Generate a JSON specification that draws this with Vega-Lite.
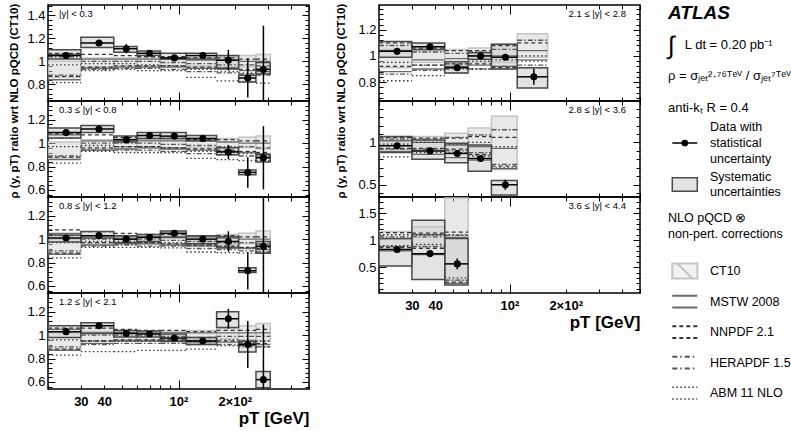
{
"$schema":"https://vega.github.io/schema/vega-lite/v6.json",
"padding":{"left":8,"top":3,"right":0,"bottom":0},
"config":{"font":"Liberation Sans","view":{"stroke":"#000","strokeWidth":1.5},
"axis":{"domain":false,"grid":false,"tickColor":"#000","labelColor":"#000","titleColor":"#000","zindex":1},
"axisX":{"labelFontSize":13,"labelFontWeight":"bold","labelPadding":10,"labelOverlap":false},
"axisY":{"tickSize":-7,"labelFontSize":13,"labelPadding":10}},
"datasets":{
"bins":[
{"p":1,"lo":20,"hi":30,"pt":25,"v":1.05,"st":0.01,"sl":1.02,"sh":1.1,"cl":0.86,"ch":1.0,"ml":0.84,"mh":1.06,"nl":0.87,"nh":1.07,"hl":0.88,"hh":1.04,"al":0.815,"ah":0.97},
{"p":1,"lo":30,"hi":45,"pt":37.5,"v":1.16,"st":0.02,"sl":1.12,"sh":1.21,"cl":0.95,"ch":1.03,"ml":0.94,"mh":1.02,"nl":0.95,"nh":1.06,"hl":0.93,"hh":1.0,"al":0.92,"ah":0.98},
{"p":1,"lo":45,"hi":60,"pt":52.5,"v":1.11,"st":0.04,"sl":1.08,"sh":1.13,"cl":0.96,"ch":1.03,"ml":0.95,"mh":1.02,"nl":0.96,"nh":1.05,"hl":0.94,"hh":1.0,"al":0.93,"ah":0.98},
{"p":1,"lo":60,"hi":80,"pt":70,"v":1.07,"st":0.01,"sl":1.05,"sh":1.09,"cl":0.96,"ch":1.03,"ml":0.95,"mh":1.02,"nl":0.96,"nh":1.04,"hl":0.94,"hh":1.0,"al":0.92,"ah":0.97},
{"p":1,"lo":80,"hi":110,"pt":95,"v":1.03,"st":0.01,"sl":1.02,"sh":1.07,"cl":0.96,"ch":1.03,"ml":0.95,"mh":1.02,"nl":0.96,"nh":1.04,"hl":0.93,"hh":0.99,"al":0.92,"ah":0.96},
{"p":1,"lo":110,"hi":160,"pt":135,"v":1.05,"st":0.012,"sl":1.02,"sh":1.07,"cl":0.96,"ch":1.03,"ml":0.94,"mh":1.01,"nl":0.95,"nh":1.03,"hl":0.91,"hh":0.98,"al":0.86,"ah":0.93},
{"p":1,"lo":160,"hi":210,"pt":185,"v":1.01,"st":0.09,"sl":0.94,"sh":1.05,"cl":0.95,"ch":1.04,"ml":0.93,"mh":1.01,"nl":0.94,"nh":1.03,"hl":0.9,"hh":0.97,"al":0.83,"ah":0.91},
{"p":1,"lo":210,"hi":260,"pt":235,"v":0.855,"st":0.17,"sl":0.82,"sh":0.88,"cl":0.95,"ch":1.05,"ml":0.92,"mh":1.0,"nl":0.93,"nh":1.02,"hl":0.89,"hh":0.97,"al":0.82,"ah":0.9},
{"p":1,"lo":260,"hi":310,"pt":285,"v":0.93,"st":0.38,"sl":0.89,"sh":0.99,"cl":0.94,"ch":1.06,"ml":0.91,"mh":1.0,"nl":0.92,"nh":1.02,"hl":0.88,"hh":0.96,"al":0.81,"ah":0.89},
{"p":2,"lo":20,"hi":30,"pt":25,"v":1.09,"st":0.012,"sl":1.045,"sh":1.13,"cl":0.87,"ch":1.01,"ml":0.86,"mh":1.07,"nl":0.88,"nh":1.08,"hl":0.89,"hh":1.04,"al":0.83,"ah":0.97},
{"p":2,"lo":30,"hi":45,"pt":37.5,"v":1.12,"st":0.015,"sl":1.09,"sh":1.15,"cl":0.95,"ch":1.03,"ml":0.94,"mh":1.02,"nl":0.96,"nh":1.07,"hl":0.94,"hh":1.0,"al":0.93,"ah":0.98},
{"p":2,"lo":45,"hi":60,"pt":52.5,"v":1.03,"st":0.01,"sl":1.01,"sh":1.06,"cl":0.96,"ch":1.03,"ml":0.95,"mh":1.02,"nl":0.97,"nh":1.05,"hl":0.94,"hh":1.0,"al":0.92,"ah":0.97},
{"p":2,"lo":60,"hi":80,"pt":70,"v":1.065,"st":0.01,"sl":1.04,"sh":1.09,"cl":0.96,"ch":1.03,"ml":0.96,"mh":1.02,"nl":0.97,"nh":1.04,"hl":0.94,"hh":1.0,"al":0.92,"ah":0.97},
{"p":2,"lo":80,"hi":110,"pt":95,"v":1.06,"st":0.01,"sl":1.04,"sh":1.09,"cl":0.96,"ch":1.03,"ml":0.95,"mh":1.02,"nl":0.96,"nh":1.04,"hl":0.93,"hh":0.99,"al":0.92,"ah":0.96},
{"p":2,"lo":110,"hi":160,"pt":135,"v":1.04,"st":0.012,"sl":1.02,"sh":1.065,"cl":0.96,"ch":1.03,"ml":0.94,"mh":1.02,"nl":0.95,"nh":1.03,"hl":0.91,"hh":0.98,"al":0.87,"ah":0.93},
{"p":2,"lo":160,"hi":210,"pt":185,"v":0.925,"st":0.06,"sl":0.9,"sh":0.96,"cl":0.96,"ch":1.04,"ml":0.93,"mh":1.01,"nl":0.94,"nh":1.03,"hl":0.9,"hh":0.97,"al":0.86,"ah":0.92},
{"p":2,"lo":210,"hi":260,"pt":235,"v":0.75,"st":0.13,"sl":0.73,"sh":0.77,"cl":0.96,"ch":1.05,"ml":0.92,"mh":1.0,"nl":0.93,"nh":1.02,"hl":0.89,"hh":0.97,"al":0.85,"ah":0.91},
{"p":2,"lo":260,"hi":310,"pt":285,"v":0.875,"st":0.27,"sl":0.84,"sh":0.9,"cl":0.95,"ch":1.06,"ml":0.91,"mh":1.0,"nl":0.92,"nh":1.02,"hl":0.88,"hh":0.96,"al":0.85,"ah":0.9},
{"p":3,"lo":20,"hi":30,"pt":25,"v":1.01,"st":0.01,"sl":0.975,"sh":1.035,"cl":0.88,"ch":1.0,"ml":0.87,"mh":1.05,"nl":0.88,"nh":1.08,"hl":0.9,"hh":1.03,"al":0.84,"ah":0.97},
{"p":3,"lo":30,"hi":45,"pt":37.5,"v":1.03,"st":0.012,"sl":1.01,"sh":1.065,"cl":0.96,"ch":1.03,"ml":0.95,"mh":1.03,"nl":0.97,"nh":1.065,"hl":0.94,"hh":1.0,"al":0.93,"ah":0.98},
{"p":3,"lo":45,"hi":60,"pt":52.5,"v":1.0,"st":0.01,"sl":0.97,"sh":1.03,"cl":0.96,"ch":1.03,"ml":0.96,"mh":1.02,"nl":0.97,"nh":1.05,"hl":0.95,"hh":1.0,"al":0.93,"ah":0.98},
{"p":3,"lo":60,"hi":80,"pt":70,"v":1.015,"st":0.012,"sl":0.98,"sh":1.04,"cl":0.96,"ch":1.03,"ml":0.96,"mh":1.02,"nl":0.97,"nh":1.04,"hl":0.94,"hh":1.0,"al":0.93,"ah":0.97},
{"p":3,"lo":80,"hi":110,"pt":95,"v":1.05,"st":0.012,"sl":1.015,"sh":1.07,"cl":0.96,"ch":1.03,"ml":0.95,"mh":1.02,"nl":0.96,"nh":1.04,"hl":0.94,"hh":0.99,"al":0.925,"ah":0.97},
{"p":3,"lo":110,"hi":160,"pt":135,"v":1.0,"st":0.015,"sl":0.96,"sh":1.03,"cl":0.96,"ch":1.03,"ml":0.94,"mh":1.02,"nl":0.95,"nh":1.03,"hl":0.92,"hh":0.98,"al":0.89,"ah":0.95},
{"p":3,"lo":160,"hi":210,"pt":185,"v":0.98,"st":0.087,"sl":0.925,"sh":1.02,"cl":0.96,"ch":1.04,"ml":0.93,"mh":1.01,"nl":0.94,"nh":1.03,"hl":0.91,"hh":0.97,"al":0.885,"ah":0.94},
{"p":3,"lo":210,"hi":260,"pt":235,"v":0.73,"st":0.16,"sl":0.715,"sh":0.755,"cl":0.96,"ch":1.05,"ml":0.92,"mh":1.0,"nl":0.93,"nh":1.02,"hl":0.9,"hh":0.97,"al":0.88,"ah":0.93},
{"p":3,"lo":260,"hi":310,"pt":285,"v":0.94,"st":0.45,"sl":0.88,"sh":0.98,"cl":0.95,"ch":1.07,"ml":0.91,"mh":1.0,"nl":0.92,"nh":1.02,"hl":0.89,"hh":0.96,"al":0.88,"ah":0.93},
{"p":4,"lo":20,"hi":30,"pt":25,"v":1.03,"st":0.012,"sl":0.98,"sh":1.08,"cl":0.88,"ch":1.02,"ml":0.87,"mh":1.05,"nl":0.88,"nh":1.06,"hl":0.9,"hh":1.03,"al":0.83,"ah":0.96},
{"p":4,"lo":30,"hi":45,"pt":37.5,"v":1.08,"st":0.012,"sl":1.015,"sh":1.105,"cl":0.95,"ch":1.03,"ml":0.93,"mh":1.02,"nl":0.95,"nh":1.06,"hl":0.92,"hh":1.0,"al":0.86,"ah":0.95},
{"p":4,"lo":45,"hi":60,"pt":52.5,"v":1.015,"st":0.01,"sl":0.985,"sh":1.04,"cl":0.96,"ch":1.03,"ml":0.95,"mh":1.02,"nl":0.96,"nh":1.05,"hl":0.93,"hh":1.0,"al":0.86,"ah":0.95},
{"p":4,"lo":60,"hi":80,"pt":70,"v":1.01,"st":0.01,"sl":0.985,"sh":1.035,"cl":0.96,"ch":1.03,"ml":0.95,"mh":1.02,"nl":0.96,"nh":1.04,"hl":0.93,"hh":1.0,"al":0.87,"ah":0.95},
{"p":4,"lo":80,"hi":110,"pt":95,"v":0.975,"st":0.012,"sl":0.945,"sh":1.01,"cl":0.96,"ch":1.03,"ml":0.95,"mh":1.02,"nl":0.96,"nh":1.04,"hl":0.93,"hh":0.99,"al":0.87,"ah":0.95},
{"p":4,"lo":110,"hi":160,"pt":135,"v":0.95,"st":0.015,"sl":0.92,"sh":0.98,"cl":0.96,"ch":1.04,"ml":0.94,"mh":1.02,"nl":0.95,"nh":1.03,"hl":0.92,"hh":0.98,"al":0.88,"ah":0.95},
{"p":4,"lo":160,"hi":210,"pt":185,"v":1.14,"st":0.085,"sl":1.065,"sh":1.2,"cl":0.97,"ch":1.06,"ml":0.94,"mh":1.02,"nl":0.95,"nh":1.04,"hl":0.92,"hh":0.99,"al":0.91,"ah":0.96},
{"p":4,"lo":210,"hi":260,"pt":235,"v":0.92,"st":0.2,"sl":0.855,"sh":0.95,"cl":0.96,"ch":1.08,"ml":0.93,"mh":1.02,"nl":0.94,"nh":1.04,"hl":0.91,"hh":0.99,"al":0.9,"ah":0.95},
{"p":4,"lo":260,"hi":310,"pt":285,"v":0.62,"st":0.47,"sl":0.55,"sh":0.69,"cl":0.95,"ch":1.1,"ml":0.92,"mh":1.02,"nl":0.93,"nh":1.05,"hl":0.9,"hh":0.99,"al":0.9,"ah":0.95},
{"p":5,"lo":20,"hi":30,"pt":25,"v":1.035,"st":0.012,"sl":0.99,"sh":1.11,"cl":0.91,"ch":1.05,"ml":0.88,"mh":1.04,"nl":0.92,"nh":1.1,"hl":0.86,"hh":1.08,"al":0.81,"ah":0.95},
{"p":5,"lo":30,"hi":45,"pt":37.5,"v":1.07,"st":0.015,"sl":1.05,"sh":1.1,"cl":0.95,"ch":1.04,"ml":0.9,"mh":0.97,"nl":0.93,"nh":1.06,"hl":0.89,"hh":1.03,"al":0.85,"ah":0.93},
{"p":5,"lo":45,"hi":60,"pt":52.5,"v":0.91,"st":0.025,"sl":0.87,"sh":0.955,"cl":0.95,"ch":1.05,"ml":0.92,"mh":0.98,"nl":0.94,"nh":1.04,"hl":0.9,"hh":1.02,"al":0.87,"ah":0.94},
{"p":5,"lo":60,"hi":80,"pt":70,"v":1.0,"st":0.02,"sl":0.975,"sh":1.025,"cl":0.95,"ch":1.06,"ml":0.93,"mh":1.0,"nl":0.94,"nh":1.04,"hl":0.9,"hh":1.03,"al":0.9,"ah":0.96},
{"p":5,"lo":80,"hi":110,"pt":95,"v":0.99,"st":0.02,"sl":0.9,"sh":1.09,"cl":0.95,"ch":1.09,"ml":0.92,"mh":1.0,"nl":0.91,"nh":1.08,"hl":0.92,"hh":1.05,"al":0.9,"ah":0.97},
{"p":5,"lo":110,"hi":160,"pt":135,"v":0.84,"st":0.06,"sl":0.755,"sh":0.91,"cl":0.99,"ch":1.17,"ml":0.97,"mh":1.04,"nl":0.91,"nh":1.1,"hl":0.93,"hh":1.12,"al":0.96,"ah":1.0},
{"p":6,"lo":20,"hi":30,"pt":25,"v":0.96,"st":0.015,"sl":0.88,"sh":1.07,"cl":0.91,"ch":1.05,"ml":0.89,"mh":1.02,"nl":0.93,"nh":1.06,"hl":0.92,"hh":1.04,"al":0.83,"ah":0.98},
{"p":6,"lo":30,"hi":45,"pt":37.5,"v":0.9,"st":0.02,"sl":0.8,"sh":1.03,"cl":0.91,"ch":1.07,"ml":0.86,"mh":1.0,"nl":0.93,"nh":1.05,"hl":0.92,"hh":1.04,"al":0.88,"ah":1.0},
{"p":6,"lo":45,"hi":60,"pt":52.5,"v":0.87,"st":0.03,"sl":0.76,"sh":0.99,"cl":0.91,"ch":1.11,"ml":0.82,"mh":0.97,"nl":0.92,"nh":1.05,"hl":0.9,"hh":1.06,"al":0.88,"ah":0.98},
{"p":6,"lo":60,"hi":80,"pt":70,"v":0.81,"st":0.03,"sl":0.66,"sh":0.97,"cl":0.85,"ch":1.17,"ml":0.79,"mh":0.95,"nl":0.86,"nh":1.07,"hl":0.88,"hh":1.09,"al":0.84,"ah":1.0},
{"p":6,"lo":80,"hi":110,"pt":95,"v":0.5,"st":0.06,"sl":0.38,"sh":0.55,"cl":0.68,"ch":1.31,"ml":0.69,"mh":0.93,"nl":0.72,"nh":1.06,"hl":0.74,"hh":1.15,"al":0.7,"ah":0.95},
{"p":7,"lo":20,"hi":30,"pt":25,"v":0.825,"st":0.02,"sl":0.52,"sh":1.03,"cl":0.89,"ch":1.16,"ml":0.8,"mh":1.03,"nl":0.86,"nh":1.14,"hl":0.88,"hh":1.06,"al":0.9,"ah":1.1},
{"p":7,"lo":30,"hi":45,"pt":37.5,"v":0.75,"st":0.025,"sl":0.27,"sh":1.37,"cl":0.9,"ch":1.25,"ml":0.73,"mh":1.1,"nl":0.85,"nh":1.13,"hl":0.88,"hh":1.06,"al":0.92,"ah":1.1},
{"p":7,"lo":45,"hi":60,"pt":52.5,"v":0.56,"st":0.1,"sl":0.17,"sh":1.03,"cl":0.25,"ch":1.78,"ml":0.2,"mh":1.05,"nl":0.22,"nh":1.15,"hl":0.26,"hh":1.09,"al":0.3,"ah":1.1}
],
"legA":[
{"k":"atlas","col":"a","t":"ATLAS"},
{"k":"lumi","col":"a","t":"∫"},
{"k":"lumi","col":"s","t":"L dt = 0.20 pb⁻¹"},
{"k":"rho","col":"a","t":"ρ = σⱼₑₜ²·⁷⁶ᵀᵉⱽ / σⱼₑₜ⁷ᵀᵉⱽ"},
{"k":"akt","col":"a","t":"anti-kₜ R = 0.4"}
],
"legB":[
{"k":"data","col":"t","t":"Data with\nstatistical\nuncertainty"},
{"k":"sys","col":"t","t":"Systematic\nuncertainties"},
{"k":"nlo","col":"a","t":"NLO pQCD ⊗\nnon-pert. corrections"},
{"k":"data","col":"s","sym":"data"},
{"k":"sys","col":"s","sym":"sys"}
],
"legC":[
{"k":"ct","col":"t","t":"CT10"},
{"k":"mstw","col":"t","t":"MSTW 2008"},
{"k":"nnpdf","col":"t","t":"NNPDF 2.1"},
{"k":"hera","col":"t","t":"HERAPDF 1.5"},
{"k":"abm","col":"t","t":"ABM 11 NLO"},
{"k":"ct","col":"s","sym":"ct"},
{"k":"mstw","col":"s","sym":"mstw"},
{"k":"nnpdf","col":"s","sym":"nnpdf"},
{"k":"hera","col":"s","sym":"hera"},
{"k":"abm","col":"s","sym":"abm"}
]
},
"spacing":26,
"hconcat":[
{"spacing":24,"hconcat":[
{"spacing":0,"bounds":"flush",
"title":{"text":"ρ (y, pT) ratio wrt NLO pQCD (CT10)","orient":"left","anchor":"end","fontSize":11.5,"fontWeight":"bold","offset":6},
"vconcat":[
{"width":261,"height":96,"title":{"text":"|y| < 0.3","orient":"top","anchor":"start","frame":"group","offset":-14,"dx":11,"fontSize":9.5,"fontWeight":"normal"},
"data":{"name":"bins"},"transform":[{"filter":"datum.p == 1"}],
"layer":[
{"mark":{"type":"rect","fill":"#e3e3e3","clip":true},"encoding":{"x":{"field":"lo","type":"quantitative","scale":{"type":"log","domain":[20,500],"nice":false},"axis":{"orient":"bottom","title":null,"labels":false,"values":[20,30,40,50,60,70,80,90,200,300,400,500],"tickSize":-4}},"x2":{"field":"hi"},"y":{"field":"sl","type":"quantitative","scale":{"domain":[0.655,1.49],"nice":false,"zero":false},"axis":{"orient":"left","title":null,"values":[0.8,1,1.2,1.4],"format":".2~f"}},"y2":{"field":"sh"}}},
{"mark":{"type":"rect","fill":"#d2d2d2","fillOpacity":0.5,"stroke":"#c4c4c4","strokeWidth":1.5,"clip":true},"encoding":{"x":{"field":"lo","type":"quantitative","axis":{"orient":"bottom","title":null,"labels":false,"values":[100],"tickSize":-9}},"x2":{"field":"hi"},"y":{"field":"cl","type":"quantitative","axis":{"orient":"left","title":null,"labels":false,"values":[0.68,0.72,0.76,0.84,0.88,0.92,0.96,1.04,1.08,1.12,1.16,1.24,1.28,1.32,1.36,1.44,1.48],"tickSize":-4}},"y2":{"field":"ch"}}},
{"transform":[{"fold":["ml","mh","nl","nh","hl","hh","al","ah"],"as":["pdf","val"]}],"mark":{"type":"rule","strokeWidth":1.3,"clip":true},"encoding":{"x":{"field":"lo","type":"quantitative","axis":null},"x2":{"field":"hi"},"y":{"field":"val","type":"quantitative","axis":null},"strokeDash":{"field":"pdf","type":"nominal","scale":{"domain":["ml","mh","nl","nh","hl","hh","al","ah"],"range":[[1,0],[1,0],[4,3],[4,3],[5,2,1.5,2],[5,2,1.5,2],[1.5,2.5],[1.5,2.5]]},"legend":null},"color":{"field":"pdf","type":"nominal","scale":{"domain":["ml","mh","nl","nh","hl","hh","al","ah"],"range":["#6a6a6a","#6a6a6a","#333333","#333333","#555555","#555555","#333333","#333333"]},"legend":null}}},
{"mark":{"type":"rect","fill":"transparent","stroke":"#4a4a4a","strokeWidth":1.5,"clip":true},"encoding":{"x":{"field":"lo","type":"quantitative","axis":{"orient":"top","title":null,"labels":false,"values":[20,30,40,50,60,70,80,90,200,300,400,500],"tickSize":-4}},"x2":{"field":"hi"},"y":{"field":"sl","type":"quantitative","axis":{"orient":"right","title":null,"labels":false,"values":[0.8,1,1.2,1.4],"tickSize":-7}},"y2":{"field":"sh"}}},
{"mark":{"type":"rule","color":"#000","strokeWidth":1.5,"clip":true},"encoding":{"x":{"field":"lo","type":"quantitative","axis":{"orient":"top","title":null,"labels":false,"values":[100],"tickSize":-9}},"x2":{"field":"hi"},"y":{"field":"v","type":"quantitative","axis":{"orient":"right","title":null,"labels":false,"values":[0.68,0.72,0.76,0.84,0.88,0.92,0.96,1.04,1.08,1.12,1.16,1.24,1.28,1.32,1.36,1.44,1.48],"tickSize":-4}}}},
{"mark":{"type":"errorbar","ticks":false,"color":"#000","thickness":1.5,"clip":true},"encoding":{"x":{"field":"pt","type":"quantitative","axis":null},"y":{"field":"v","type":"quantitative","axis":null},"yError":{"field":"st"}}},
{"mark":{"type":"point","filled":true,"size":50,"color":"#000","opacity":1,"clip":true},"encoding":{"x":{"field":"pt","type":"quantitative","axis":null},"y":{"field":"v","type":"quantitative","axis":null}}}
]},
{"width":261,"height":96,"title":{"text":"0.3 ≤ |y| < 0.8","orient":"top","anchor":"start","frame":"group","offset":-14,"dx":11,"fontSize":9.5,"fontWeight":"normal"},
"data":{"name":"bins"},"transform":[{"filter":"datum.p == 2"}],
"layer":[
{"mark":{"type":"rect","fill":"#e3e3e3","clip":true},"encoding":{"x":{"field":"lo","type":"quantitative","scale":{"type":"log","domain":[20,500],"nice":false},"axis":{"orient":"bottom","title":null,"labels":false,"values":[20,30,40,50,60,70,80,90,200,300,400,500],"tickSize":-4}},"x2":{"field":"hi"},"y":{"field":"sl","type":"quantitative","scale":{"domain":[0.54,1.36],"nice":false,"zero":false},"axis":{"orient":"left","title":null,"values":[0.6,0.8,1,1.2],"format":".2~f"}},"y2":{"field":"sh"}}},
{"mark":{"type":"rect","fill":"#d2d2d2","fillOpacity":0.5,"stroke":"#c4c4c4","strokeWidth":1.5,"clip":true},"encoding":{"x":{"field":"lo","type":"quantitative","axis":{"orient":"bottom","title":null,"labels":false,"values":[100],"tickSize":-9}},"x2":{"field":"hi"},"y":{"field":"cl","type":"quantitative","axis":{"orient":"left","title":null,"labels":false,"values":[0.56,0.64,0.68,0.72,0.76,0.84,0.88,0.92,0.96,1.04,1.08,1.12,1.16,1.24,1.28,1.32],"tickSize":-4}},"y2":{"field":"ch"}}},
{"transform":[{"fold":["ml","mh","nl","nh","hl","hh","al","ah"],"as":["pdf","val"]}],"mark":{"type":"rule","strokeWidth":1.3,"clip":true},"encoding":{"x":{"field":"lo","type":"quantitative","axis":null},"x2":{"field":"hi"},"y":{"field":"val","type":"quantitative","axis":null},"strokeDash":{"field":"pdf","type":"nominal","scale":{"domain":["ml","mh","nl","nh","hl","hh","al","ah"],"range":[[1,0],[1,0],[4,3],[4,3],[5,2,1.5,2],[5,2,1.5,2],[1.5,2.5],[1.5,2.5]]},"legend":null},"color":{"field":"pdf","type":"nominal","scale":{"domain":["ml","mh","nl","nh","hl","hh","al","ah"],"range":["#6a6a6a","#6a6a6a","#333333","#333333","#555555","#555555","#333333","#333333"]},"legend":null}}},
{"mark":{"type":"rect","fill":"transparent","stroke":"#4a4a4a","strokeWidth":1.5,"clip":true},"encoding":{"x":{"field":"lo","type":"quantitative","axis":{"orient":"top","title":null,"labels":false,"values":[20,30,40,50,60,70,80,90,200,300,400,500],"tickSize":-4}},"x2":{"field":"hi"},"y":{"field":"sl","type":"quantitative","axis":{"orient":"right","title":null,"labels":false,"values":[0.6,0.8,1,1.2],"tickSize":-7}},"y2":{"field":"sh"}}},
{"mark":{"type":"rule","color":"#000","strokeWidth":1.5,"clip":true},"encoding":{"x":{"field":"lo","type":"quantitative","axis":{"orient":"top","title":null,"labels":false,"values":[100],"tickSize":-9}},"x2":{"field":"hi"},"y":{"field":"v","type":"quantitative","axis":{"orient":"right","title":null,"labels":false,"values":[0.56,0.64,0.68,0.72,0.76,0.84,0.88,0.92,0.96,1.04,1.08,1.12,1.16,1.24,1.28,1.32],"tickSize":-4}}}},
{"mark":{"type":"errorbar","ticks":false,"color":"#000","thickness":1.5,"clip":true},"encoding":{"x":{"field":"pt","type":"quantitative","axis":null},"y":{"field":"v","type":"quantitative","axis":null},"yError":{"field":"st"}}},
{"mark":{"type":"point","filled":true,"size":50,"color":"#000","opacity":1,"clip":true},"encoding":{"x":{"field":"pt","type":"quantitative","axis":null},"y":{"field":"v","type":"quantitative","axis":null}}}
]},
{"width":261,"height":96,"title":{"text":"0.8 ≤ |y| < 1.2","orient":"top","anchor":"start","frame":"group","offset":-14,"dx":11,"fontSize":9.5,"fontWeight":"normal"},
"data":{"name":"bins"},"transform":[{"filter":"datum.p == 3"}],
"layer":[
{"mark":{"type":"rect","fill":"#e3e3e3","clip":true},"encoding":{"x":{"field":"lo","type":"quantitative","scale":{"type":"log","domain":[20,500],"nice":false},"axis":{"orient":"bottom","title":null,"labels":false,"values":[20,30,40,50,60,70,80,90,200,300,400,500],"tickSize":-4}},"x2":{"field":"hi"},"y":{"field":"sl","type":"quantitative","scale":{"domain":[0.54,1.36],"nice":false,"zero":false},"axis":{"orient":"left","title":null,"values":[0.6,0.8,1,1.2],"format":".2~f"}},"y2":{"field":"sh"}}},
{"mark":{"type":"rect","fill":"#d2d2d2","fillOpacity":0.5,"stroke":"#c4c4c4","strokeWidth":1.5,"clip":true},"encoding":{"x":{"field":"lo","type":"quantitative","axis":{"orient":"bottom","title":null,"labels":false,"values":[100],"tickSize":-9}},"x2":{"field":"hi"},"y":{"field":"cl","type":"quantitative","axis":{"orient":"left","title":null,"labels":false,"values":[0.56,0.64,0.68,0.72,0.76,0.84,0.88,0.92,0.96,1.04,1.08,1.12,1.16,1.24,1.28,1.32],"tickSize":-4}},"y2":{"field":"ch"}}},
{"transform":[{"fold":["ml","mh","nl","nh","hl","hh","al","ah"],"as":["pdf","val"]}],"mark":{"type":"rule","strokeWidth":1.3,"clip":true},"encoding":{"x":{"field":"lo","type":"quantitative","axis":null},"x2":{"field":"hi"},"y":{"field":"val","type":"quantitative","axis":null},"strokeDash":{"field":"pdf","type":"nominal","scale":{"domain":["ml","mh","nl","nh","hl","hh","al","ah"],"range":[[1,0],[1,0],[4,3],[4,3],[5,2,1.5,2],[5,2,1.5,2],[1.5,2.5],[1.5,2.5]]},"legend":null},"color":{"field":"pdf","type":"nominal","scale":{"domain":["ml","mh","nl","nh","hl","hh","al","ah"],"range":["#6a6a6a","#6a6a6a","#333333","#333333","#555555","#555555","#333333","#333333"]},"legend":null}}},
{"mark":{"type":"rect","fill":"transparent","stroke":"#4a4a4a","strokeWidth":1.5,"clip":true},"encoding":{"x":{"field":"lo","type":"quantitative","axis":{"orient":"top","title":null,"labels":false,"values":[20,30,40,50,60,70,80,90,200,300,400,500],"tickSize":-4}},"x2":{"field":"hi"},"y":{"field":"sl","type":"quantitative","axis":{"orient":"right","title":null,"labels":false,"values":[0.6,0.8,1,1.2],"tickSize":-7}},"y2":{"field":"sh"}}},
{"mark":{"type":"rule","color":"#000","strokeWidth":1.5,"clip":true},"encoding":{"x":{"field":"lo","type":"quantitative","axis":{"orient":"top","title":null,"labels":false,"values":[100],"tickSize":-9}},"x2":{"field":"hi"},"y":{"field":"v","type":"quantitative","axis":{"orient":"right","title":null,"labels":false,"values":[0.56,0.64,0.68,0.72,0.76,0.84,0.88,0.92,0.96,1.04,1.08,1.12,1.16,1.24,1.28,1.32],"tickSize":-4}}}},
{"mark":{"type":"errorbar","ticks":false,"color":"#000","thickness":1.5,"clip":true},"encoding":{"x":{"field":"pt","type":"quantitative","axis":null},"y":{"field":"v","type":"quantitative","axis":null},"yError":{"field":"st"}}},
{"mark":{"type":"point","filled":true,"size":50,"color":"#000","opacity":1,"clip":true},"encoding":{"x":{"field":"pt","type":"quantitative","axis":null},"y":{"field":"v","type":"quantitative","axis":null}}}
]},
{"width":261,"height":96,"title":{"text":"1.2 ≤ |y| < 2.1","orient":"top","anchor":"start","frame":"group","offset":-14,"dx":11,"fontSize":9.5,"fontWeight":"normal"},
"data":{"name":"bins"},"transform":[{"filter":"datum.p == 4"}],
"layer":[
{"mark":{"type":"rect","fill":"#e3e3e3","clip":true},"encoding":{"x":{"field":"lo","type":"quantitative","scale":{"type":"log","domain":[20,500],"nice":false},"axis":{"orient":"bottom","title":"pT [GeV]","titleAnchor":"end","titleFontSize":17,"titleFontWeight":"bold","titlePadding":2,"values":[20,30,40,50,60,70,80,90,100,200,300,400,500],"tickSize":-4,"labelExpr":"datum.value==30?'30':datum.value==40?'40':datum.value==100?'10²':datum.value==200?'2×10²':''"}},"x2":{"field":"hi"},"y":{"field":"sl","type":"quantitative","scale":{"domain":[0.54,1.36],"nice":false,"zero":false},"axis":{"orient":"left","title":null,"values":[0.6,0.8,1,1.2],"format":".2~f"}},"y2":{"field":"sh"}}},
{"mark":{"type":"rect","fill":"#d2d2d2","fillOpacity":0.5,"stroke":"#c4c4c4","strokeWidth":1.5,"clip":true},"encoding":{"x":{"field":"lo","type":"quantitative","axis":{"orient":"bottom","title":null,"labels":false,"values":[100],"tickSize":-9}},"x2":{"field":"hi"},"y":{"field":"cl","type":"quantitative","axis":{"orient":"left","title":null,"labels":false,"values":[0.56,0.64,0.68,0.72,0.76,0.84,0.88,0.92,0.96,1.04,1.08,1.12,1.16,1.24,1.28,1.32],"tickSize":-4}},"y2":{"field":"ch"}}},
{"transform":[{"fold":["ml","mh","nl","nh","hl","hh","al","ah"],"as":["pdf","val"]}],"mark":{"type":"rule","strokeWidth":1.3,"clip":true},"encoding":{"x":{"field":"lo","type":"quantitative","axis":null},"x2":{"field":"hi"},"y":{"field":"val","type":"quantitative","axis":null},"strokeDash":{"field":"pdf","type":"nominal","scale":{"domain":["ml","mh","nl","nh","hl","hh","al","ah"],"range":[[1,0],[1,0],[4,3],[4,3],[5,2,1.5,2],[5,2,1.5,2],[1.5,2.5],[1.5,2.5]]},"legend":null},"color":{"field":"pdf","type":"nominal","scale":{"domain":["ml","mh","nl","nh","hl","hh","al","ah"],"range":["#6a6a6a","#6a6a6a","#333333","#333333","#555555","#555555","#333333","#333333"]},"legend":null}}},
{"mark":{"type":"rect","fill":"transparent","stroke":"#4a4a4a","strokeWidth":1.5,"clip":true},"encoding":{"x":{"field":"lo","type":"quantitative","axis":{"orient":"top","title":null,"labels":false,"values":[20,30,40,50,60,70,80,90,200,300,400,500],"tickSize":-4}},"x2":{"field":"hi"},"y":{"field":"sl","type":"quantitative","axis":{"orient":"right","title":null,"labels":false,"values":[0.6,0.8,1,1.2],"tickSize":-7}},"y2":{"field":"sh"}}},
{"mark":{"type":"rule","color":"#000","strokeWidth":1.5,"clip":true},"encoding":{"x":{"field":"lo","type":"quantitative","axis":{"orient":"top","title":null,"labels":false,"values":[100],"tickSize":-9}},"x2":{"field":"hi"},"y":{"field":"v","type":"quantitative","axis":{"orient":"right","title":null,"labels":false,"values":[0.56,0.64,0.68,0.72,0.76,0.84,0.88,0.92,0.96,1.04,1.08,1.12,1.16,1.24,1.28,1.32],"tickSize":-4}}}},
{"mark":{"type":"errorbar","ticks":false,"color":"#000","thickness":1.5,"clip":true},"encoding":{"x":{"field":"pt","type":"quantitative","axis":null},"y":{"field":"v","type":"quantitative","axis":null},"yError":{"field":"st"}}},
{"mark":{"type":"point","filled":true,"size":50,"color":"#000","opacity":1,"clip":true},"encoding":{"x":{"field":"pt","type":"quantitative","axis":null},"y":{"field":"v","type":"quantitative","axis":null}}}
]}
]},
{"spacing":0,"bounds":"flush",
"title":{"text":"ρ (y, pT) ratio wrt NLO pQCD (CT10)","orient":"left","anchor":"end","fontSize":11.5,"fontWeight":"bold","offset":10},
"vconcat":[
{"width":261,"height":96,"title":{"text":"2.1 ≤ |y| < 2.8","orient":"top","anchor":"end","frame":"group","offset":-14,"dx":-14,"fontSize":9.5,"fontWeight":"normal"},
"data":{"name":"bins"},"transform":[{"filter":"datum.p == 5"}],
"layer":[
{"mark":{"type":"rect","fill":"#e3e3e3","clip":true},"encoding":{"x":{"field":"lo","type":"quantitative","scale":{"type":"log","domain":[20,500],"nice":false},"axis":{"orient":"bottom","title":null,"labels":false,"values":[20,30,40,50,60,70,80,90,200,300,400,500],"tickSize":-4}},"x2":{"field":"hi"},"y":{"field":"sl","type":"quantitative","scale":{"domain":[0.655,1.39],"nice":false,"zero":false},"axis":{"orient":"left","title":null,"values":[0.8,1,1.2],"format":".2~f"}},"y2":{"field":"sh"}}},
{"mark":{"type":"rect","fill":"#d2d2d2","fillOpacity":0.5,"stroke":"#c4c4c4","strokeWidth":1.5,"clip":true},"encoding":{"x":{"field":"lo","type":"quantitative","axis":{"orient":"bottom","title":null,"labels":false,"values":[100],"tickSize":-9}},"x2":{"field":"hi"},"y":{"field":"cl","type":"quantitative","axis":{"orient":"left","title":null,"labels":false,"values":[0.68,0.72,0.76,0.84,0.88,0.92,0.96,1.04,1.08,1.12,1.16,1.24,1.28,1.32,1.36],"tickSize":-4}},"y2":{"field":"ch"}}},
{"transform":[{"fold":["ml","mh","nl","nh","hl","hh","al","ah"],"as":["pdf","val"]}],"mark":{"type":"rule","strokeWidth":1.3,"clip":true},"encoding":{"x":{"field":"lo","type":"quantitative","axis":null},"x2":{"field":"hi"},"y":{"field":"val","type":"quantitative","axis":null},"strokeDash":{"field":"pdf","type":"nominal","scale":{"domain":["ml","mh","nl","nh","hl","hh","al","ah"],"range":[[1,0],[1,0],[4,3],[4,3],[5,2,1.5,2],[5,2,1.5,2],[1.5,2.5],[1.5,2.5]]},"legend":null},"color":{"field":"pdf","type":"nominal","scale":{"domain":["ml","mh","nl","nh","hl","hh","al","ah"],"range":["#6a6a6a","#6a6a6a","#333333","#333333","#555555","#555555","#333333","#333333"]},"legend":null}}},
{"mark":{"type":"rect","fill":"transparent","stroke":"#4a4a4a","strokeWidth":1.5,"clip":true},"encoding":{"x":{"field":"lo","type":"quantitative","axis":{"orient":"top","title":null,"labels":false,"values":[20,30,40,50,60,70,80,90,200,300,400,500],"tickSize":-4}},"x2":{"field":"hi"},"y":{"field":"sl","type":"quantitative","axis":{"orient":"right","title":null,"labels":false,"values":[0.8,1,1.2],"tickSize":-7}},"y2":{"field":"sh"}}},
{"mark":{"type":"rule","color":"#000","strokeWidth":1.5,"clip":true},"encoding":{"x":{"field":"lo","type":"quantitative","axis":{"orient":"top","title":null,"labels":false,"values":[100],"tickSize":-9}},"x2":{"field":"hi"},"y":{"field":"v","type":"quantitative","axis":{"orient":"right","title":null,"labels":false,"values":[0.68,0.72,0.76,0.84,0.88,0.92,0.96,1.04,1.08,1.12,1.16,1.24,1.28,1.32,1.36],"tickSize":-4}}}},
{"mark":{"type":"errorbar","ticks":false,"color":"#000","thickness":1.5,"clip":true},"encoding":{"x":{"field":"pt","type":"quantitative","axis":null},"y":{"field":"v","type":"quantitative","axis":null},"yError":{"field":"st"}}},
{"mark":{"type":"point","filled":true,"size":50,"color":"#000","opacity":1,"clip":true},"encoding":{"x":{"field":"pt","type":"quantitative","axis":null},"y":{"field":"v","type":"quantitative","axis":null}}}
]},
{"width":261,"height":96,"title":{"text":"2.8 ≤ |y| < 3.6","orient":"top","anchor":"end","frame":"group","offset":-14,"dx":-14,"fontSize":9.5,"fontWeight":"normal"},
"data":{"name":"bins"},"transform":[{"filter":"datum.p == 6"}],
"layer":[
{"mark":{"type":"rect","fill":"#e3e3e3","clip":true},"encoding":{"x":{"field":"lo","type":"quantitative","scale":{"type":"log","domain":[20,500],"nice":false},"axis":{"orient":"bottom","title":null,"labels":false,"values":[20,30,40,50,60,70,80,90,200,300,400,500],"tickSize":-4}},"x2":{"field":"hi"},"y":{"field":"sl","type":"quantitative","scale":{"domain":[0.355,1.49],"nice":false,"zero":false},"axis":{"orient":"left","title":null,"values":[0.5,1],"format":".2~f"}},"y2":{"field":"sh"}}},
{"mark":{"type":"rect","fill":"#d2d2d2","fillOpacity":0.5,"stroke":"#c4c4c4","strokeWidth":1.5,"clip":true},"encoding":{"x":{"field":"lo","type":"quantitative","axis":{"orient":"bottom","title":null,"labels":false,"values":[100],"tickSize":-9}},"x2":{"field":"hi"},"y":{"field":"cl","type":"quantitative","axis":{"orient":"left","title":null,"labels":false,"values":[0.4,0.6,0.7,0.8,0.9,1.1,1.2,1.3,1.4],"tickSize":-4}},"y2":{"field":"ch"}}},
{"transform":[{"fold":["ml","mh","nl","nh","hl","hh","al","ah"],"as":["pdf","val"]}],"mark":{"type":"rule","strokeWidth":1.3,"clip":true},"encoding":{"x":{"field":"lo","type":"quantitative","axis":null},"x2":{"field":"hi"},"y":{"field":"val","type":"quantitative","axis":null},"strokeDash":{"field":"pdf","type":"nominal","scale":{"domain":["ml","mh","nl","nh","hl","hh","al","ah"],"range":[[1,0],[1,0],[4,3],[4,3],[5,2,1.5,2],[5,2,1.5,2],[1.5,2.5],[1.5,2.5]]},"legend":null},"color":{"field":"pdf","type":"nominal","scale":{"domain":["ml","mh","nl","nh","hl","hh","al","ah"],"range":["#6a6a6a","#6a6a6a","#333333","#333333","#555555","#555555","#333333","#333333"]},"legend":null}}},
{"mark":{"type":"rect","fill":"transparent","stroke":"#4a4a4a","strokeWidth":1.5,"clip":true},"encoding":{"x":{"field":"lo","type":"quantitative","axis":{"orient":"top","title":null,"labels":false,"values":[20,30,40,50,60,70,80,90,200,300,400,500],"tickSize":-4}},"x2":{"field":"hi"},"y":{"field":"sl","type":"quantitative","axis":{"orient":"right","title":null,"labels":false,"values":[0.5,1],"tickSize":-7}},"y2":{"field":"sh"}}},
{"mark":{"type":"rule","color":"#000","strokeWidth":1.5,"clip":true},"encoding":{"x":{"field":"lo","type":"quantitative","axis":{"orient":"top","title":null,"labels":false,"values":[100],"tickSize":-9}},"x2":{"field":"hi"},"y":{"field":"v","type":"quantitative","axis":{"orient":"right","title":null,"labels":false,"values":[0.4,0.6,0.7,0.8,0.9,1.1,1.2,1.3,1.4],"tickSize":-4}}}},
{"mark":{"type":"errorbar","ticks":false,"color":"#000","thickness":1.5,"clip":true},"encoding":{"x":{"field":"pt","type":"quantitative","axis":null},"y":{"field":"v","type":"quantitative","axis":null},"yError":{"field":"st"}}},
{"mark":{"type":"point","filled":true,"size":50,"color":"#000","opacity":1,"clip":true},"encoding":{"x":{"field":"pt","type":"quantitative","axis":null},"y":{"field":"v","type":"quantitative","axis":null}}}
]},
{"width":261,"height":96,"title":{"text":"3.6 ≤ |y| < 4.4","orient":"top","anchor":"end","frame":"group","offset":-14,"dx":-14,"fontSize":9.5,"fontWeight":"normal"},
"data":{"name":"bins"},"transform":[{"filter":"datum.p == 7"}],
"layer":[
{"mark":{"type":"rect","fill":"#e3e3e3","clip":true},"encoding":{"x":{"field":"lo","type":"quantitative","scale":{"type":"log","domain":[20,500],"nice":false},"axis":{"orient":"bottom","title":"pT [GeV]","titleAnchor":"end","titleFontSize":17,"titleFontWeight":"bold","titlePadding":2,"values":[20,30,40,50,60,70,80,90,100,200,300,400,500],"tickSize":-4,"labelExpr":"datum.value==30?'30':datum.value==40?'40':datum.value==100?'10²':datum.value==200?'2×10²':''"}},"x2":{"field":"hi"},"y":{"field":"sl","type":"quantitative","scale":{"domain":[0.02,1.8],"nice":false,"zero":false},"axis":{"orient":"left","title":null,"values":[0.5,1,1.5],"format":".2~f"}},"y2":{"field":"sh"}}},
{"mark":{"type":"rect","fill":"#d2d2d2","fillOpacity":0.5,"stroke":"#c4c4c4","strokeWidth":1.5,"clip":true},"encoding":{"x":{"field":"lo","type":"quantitative","axis":{"orient":"bottom","title":null,"labels":false,"values":[100],"tickSize":-9}},"x2":{"field":"hi"},"y":{"field":"cl","type":"quantitative","axis":{"orient":"left","title":null,"labels":false,"values":[0.1,0.2,0.3,0.4,0.6,0.7,0.8,0.9,1.1,1.2,1.3,1.4,1.6,1.7],"tickSize":-4}},"y2":{"field":"ch"}}},
{"transform":[{"fold":["ml","mh","nl","nh","hl","hh","al","ah"],"as":["pdf","val"]}],"mark":{"type":"rule","strokeWidth":1.3,"clip":true},"encoding":{"x":{"field":"lo","type":"quantitative","axis":null},"x2":{"field":"hi"},"y":{"field":"val","type":"quantitative","axis":null},"strokeDash":{"field":"pdf","type":"nominal","scale":{"domain":["ml","mh","nl","nh","hl","hh","al","ah"],"range":[[1,0],[1,0],[4,3],[4,3],[5,2,1.5,2],[5,2,1.5,2],[1.5,2.5],[1.5,2.5]]},"legend":null},"color":{"field":"pdf","type":"nominal","scale":{"domain":["ml","mh","nl","nh","hl","hh","al","ah"],"range":["#6a6a6a","#6a6a6a","#333333","#333333","#555555","#555555","#333333","#333333"]},"legend":null}}},
{"mark":{"type":"rect","fill":"transparent","stroke":"#4a4a4a","strokeWidth":1.5,"clip":true},"encoding":{"x":{"field":"lo","type":"quantitative","axis":{"orient":"top","title":null,"labels":false,"values":[20,30,40,50,60,70,80,90,200,300,400,500],"tickSize":-4}},"x2":{"field":"hi"},"y":{"field":"sl","type":"quantitative","axis":{"orient":"right","title":null,"labels":false,"values":[0.5,1,1.5],"tickSize":-7}},"y2":{"field":"sh"}}},
{"mark":{"type":"rule","color":"#000","strokeWidth":1.5,"clip":true},"encoding":{"x":{"field":"lo","type":"quantitative","axis":{"orient":"top","title":null,"labels":false,"values":[100],"tickSize":-9}},"x2":{"field":"hi"},"y":{"field":"v","type":"quantitative","axis":{"orient":"right","title":null,"labels":false,"values":[0.1,0.2,0.3,0.4,0.6,0.7,0.8,0.9,1.1,1.2,1.3,1.4,1.6,1.7],"tickSize":-4}}}},
{"mark":{"type":"errorbar","ticks":false,"color":"#000","thickness":1.5,"clip":true},"encoding":{"x":{"field":"pt","type":"quantitative","axis":null},"y":{"field":"v","type":"quantitative","axis":null},"yError":{"field":"st"}}},
{"mark":{"type":"point","filled":true,"size":50,"color":"#000","opacity":1,"clip":true},"encoding":{"x":{"field":"pt","type":"quantitative","axis":null},"y":{"field":"v","type":"quantitative","axis":null}}}
]}
]}
]},
{"spacing":0,"bounds":"flush","vconcat":[
{"width":118,"height":110,"view":{"stroke":null},"data":{"name":"legA"},
"encoding":{"x":{"field":"col","type":"nominal","scale":{"type":"point","domain":["a","b","s","d","e","t"],"range":[0,42],"padding":0},"axis":null},
"y":{"field":"k","type":"nominal","scale":{"type":"point","domain":["atlas","lumi","rho","akt"],"range":[8,103],"padding":0},"axis":null}},
"layer":[
{"transform":[{"filter":"datum.k == 'atlas'"}],"mark":{"type":"text","align":"left","baseline":"middle","fontSize":19,"fontWeight":"bold","fontStyle":"italic","color":"#000"},"encoding":{"text":{"field":"t"}}},
{"transform":[{"filter":"datum.t == '∫'"}],"mark":{"type":"text","align":"left","baseline":"middle","fontSize":25,"dy":1,"color":"#000"},"encoding":{"text":{"field":"t"}}},
{"transform":[{"filter":"datum.k != 'atlas' && datum.t != '∫'"}],"mark":{"type":"text","align":"left","baseline":"middle","fontSize":13,"color":"#000"},"encoding":{"text":{"field":"t"}}}
]},
{"width":118,"height":140,"view":{"stroke":null},"data":{"name":"legB"},
"encoding":{"x":{"field":"col","type":"nominal","scale":{"type":"point","domain":["a","b","s","d","e","t"],"range":[0,42],"padding":0},"axis":null},
"y":{"field":"k","type":"nominal","scale":{"type":"point","domain":["data","sys","nlo"],"range":[28,111],"padding":0},"axis":null}},
"layer":[
{"transform":[{"filter":"datum.k == 'data' && isValid(datum.t)"}],"mark":{"type":"text","align":"left","baseline":"middle","fontSize":12.5,"lineBreak":"\n","lineHeight":16,"dy":-16,"color":"#000"},"encoding":{"text":{"field":"t"}}},
{"transform":[{"filter":"datum.k != 'data' && isValid(datum.t)"}],"mark":{"type":"text","align":"left","baseline":"middle","fontSize":12.5,"lineBreak":"\n","lineHeight":15.5,"dy":-8,"color":"#000"},"encoding":{"text":{"field":"t"}}},
{"transform":[{"filter":"datum.sym == 'data'"}],"mark":{"type":"point","shape":"M-1,0H1","size":625,"filled":false,"stroke":"#000","strokeWidth":1.5,"opacity":1}},
{"transform":[{"filter":"datum.sym == 'data'"}],"mark":{"type":"point","shape":"circle","size":45,"filled":true,"color":"#000","opacity":1}},
{"transform":[{"filter":"datum.sym == 'sys'"}],"mark":{"type":"point","shape":"M-1.5,-0.8H1.5V0.8H-1.5Z","size":278,"fill":"#e3e3e3","stroke":"#4a4a4a","strokeWidth":1.5,"opacity":1,"fillOpacity":1}}
]},
{"width":118,"height":145,"view":{"stroke":null},"data":{"name":"legC"},
"encoding":{"x":{"field":"col","type":"nominal","scale":{"type":"point","domain":["a","b","s","d","e","t"],"range":[0,42],"padding":0},"axis":null},
"y":{"field":"k","type":"nominal","scale":{"type":"point","domain":["ct","mstw","nnpdf","hera","abm"],"range":[16,138],"padding":0},"axis":null}},
"layer":[
{"transform":[{"filter":"isValid(datum.t)"}],"mark":{"type":"text","align":"left","baseline":"middle","fontSize":12.5,"color":"#000"},"encoding":{"text":{"field":"t"}}},
{"transform":[{"filter":"datum.sym == 'ct'"}],"mark":{"type":"point","shape":"M-1.5,-0.9H1.5V0.9H-1.5Z M-0.9,-0.9L0.9,0.9","size":280,"fill":"#f2f2f2","stroke":"#c4c4c4","strokeWidth":2,"opacity":1,"fillOpacity":1}},
{"transform":[{"filter":"datum.sym == 'mstw'"}],"mark":{"type":"point","shape":"M-1,-0.47H1M-1,0.47H1","size":625,"filled":false,"stroke":"#6a6a6a","strokeWidth":2,"opacity":1}},
{"transform":[{"filter":"datum.sym == 'nnpdf'"}],"mark":{"type":"point","shape":"M-1,-0.47H1M-1,0.47H1","size":625,"filled":false,"stroke":"#333333","strokeWidth":2,"strokeDash":[4,3],"opacity":1}},
{"transform":[{"filter":"datum.sym == 'hera'"}],"mark":{"type":"point","shape":"M-1,-0.47H1M-1,0.47H1","size":625,"filled":false,"stroke":"#555555","strokeWidth":2,"strokeDash":[5,3,1.5,3],"opacity":1}},
{"transform":[{"filter":"datum.sym == 'abm'"}],"mark":{"type":"point","shape":"M-1,-0.47H1M-1,0.47H1","size":625,"filled":false,"stroke":"#333333","strokeWidth":1.5,"strokeDash":[1.5,2.5],"opacity":1}}
]}
]}
]
}
